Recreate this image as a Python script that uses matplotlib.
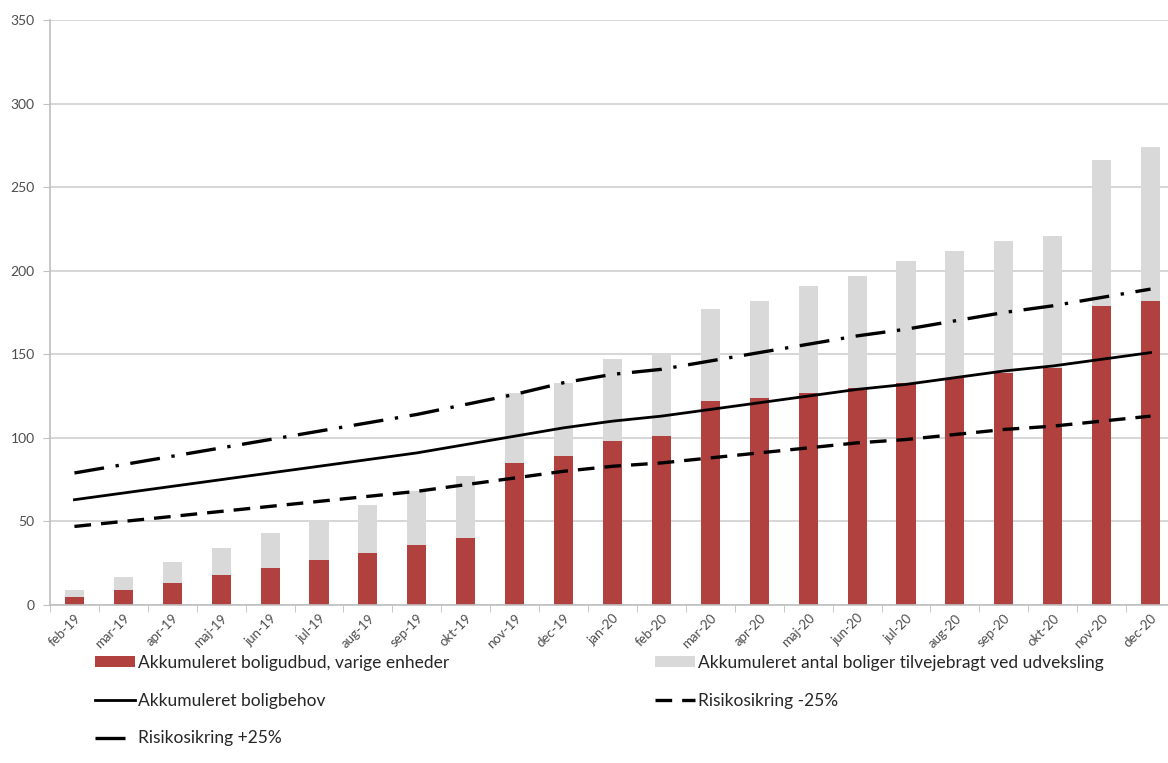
import matplotlib.pyplot as plt
import numpy as np

months = ["feb-19", "mar-19", "apr-19", "maj-19", "jun-19", "jul-19", "aug-19",
          "sep-19", "okt-19", "nov-19", "dec-19", "jan-20", "feb-20", "mar-20",
          "apr-20", "maj-20", "jun-20", "jul-20", "aug-20", "sep-20", "okt-20",
          "nov-20", "dec-20"]

# accumulated supply, permanent units (red)
udbud = [5, 9, 13, 18, 22, 27, 31, 36, 40, 85, 89, 98, 101, 122, 124, 127,
         130, 133, 136, 139, 142, 179, 182]
# accumulated units from exchange (grey, stacked on top)
udveksling = [4, 8, 13, 16, 21, 24, 29, 32, 37, 42, 44, 49, 49, 55, 58, 64,
              67, 73, 76, 79, 79, 87, 92]
# accumulated need and +/-25% risk lines
behov = [63, 67, 71, 75, 79, 83, 87, 91, 96, 101, 106, 110, 113, 117, 121,
         125, 129, 132, 136, 140, 143, 147, 151]
minus25 = [47, 50, 53, 56, 59, 62, 65, 68, 72, 76, 80, 83, 85, 88, 91, 94,
           97, 99, 102, 105, 107, 110, 113]
plus25 = [79, 84, 89, 94, 99, 104, 109, 114, 120, 126, 133, 138, 141, 146,
          151, 156, 161, 165, 170, 175, 179, 184, 189]

plt.rcParams["font.family"] = ["Lato", "DejaVu Sans"]

red = "#b0413e"
grey = "#d9d9d9"
txt = "#4d4d4d"

fig = plt.figure(figsize=(11.68, 7.63), dpi=100)
ax = fig.add_axes([50 / 1168, 158 / 763, 1125 / 1168, 585 / 763])

x = np.arange(len(months))
b1 = ax.bar(x, udbud, width=0.39, color=red, zorder=2)
b2 = ax.bar(x, udveksling, width=0.39, bottom=udbud, color=grey, zorder=2)
l1, = ax.plot(x, behov, color="black", lw=2.0, zorder=3)
l2, = ax.plot(x, minus25, color="black", lw=2.4, dashes=(5, 3), zorder=3)
l3, = ax.plot(x, plus25, color="black", lw=2.4, dashes=(9, 3.5, 1, 3.5), zorder=3)

ax.set_xlim(-0.5, len(months) - 0.5)
ax.set_ylim(0, 350)
ax.set_yticks(range(0, 351, 50))
ax.yaxis.grid(True, color="#d0d0d0", lw=1.2, zorder=0)
ax.set_axisbelow(True)

ax.set_xticks(x)
ax.set_xticklabels(months, rotation=45, ha="right", rotation_mode="anchor",
                   fontsize=9.5, color=txt)
ax.set_xticks(np.arange(-0.5, len(months), 1), minor=True)
ax.tick_params(axis="x", which="major", length=0, pad=5)
ax.tick_params(axis="x", which="minor", length=5, color="#bfbfbf", direction="out")
ax.tick_params(axis="y", length=5, color="#bfbfbf", labelsize=10,
               labelcolor=txt, pad=6)

for s in ["top", "right"]:
    ax.spines[s].set_visible(False)
ax.spines["left"].set_color("#bfbfbf")
ax.spines["bottom"].set_color("#bfbfbf")
ax.spines["left"].set_linewidth(1.2)
ax.spines["bottom"].set_linewidth(1.2)

# legend, two columns placed like the original
common = dict(loc="upper left", frameon=False, fontsize=12.5, handlelength=2.3,
              handleheight=0.6, handletextpad=0.15, labelspacing=1.25,
              borderpad=0, borderaxespad=0, labelcolor="#262626")
fig.legend([b1, l1, l3],
           ["Akkumuleret boligudbud, varige enheder", "Akkumuleret boligbehov",
            "Risikosikring +25%"],
           bbox_to_anchor=(95 / 1168, 1 - 655 / 763), **common)
fig.legend([b2, l2],
           ["Akkumuleret antal boliger tilvejebragt ved udveksling",
            "Risikosikring -25%"],
           bbox_to_anchor=(655 / 1168, 1 - 655 / 763), **common)

fig.savefig("out.png", dpi=100)
